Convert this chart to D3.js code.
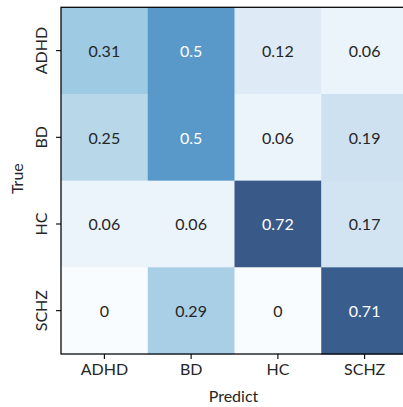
<!DOCTYPE html>
<html><head><meta charset="utf-8">
<script src="https://cdn.jsdelivr.net/npm/d3@7"></script>
<style>body{margin:0;background:#fff;} svg{display:block;} text{font-family:Lato,"DejaVu Sans",sans-serif;}</style>
</head><body><svg id="c" width="403" height="407"></svg>
<script>
const trueLabels = ["ADHD","BD","HC","SCHZ"];
const predLabels = ["ADHD","BD","HC","SCHZ"];
const rowADHD = [0.31, 0.5, 0.12, 0.06];
const rowBD = [0.25, 0.5, 0.06, 0.19];
const rowHC = [0.06, 0.06, 0.72, 0.17];
const rowSCHZ = [0, 0.29, 0, 0.71];
const matrix = [rowADHD, rowBD, rowHC, rowSCHZ];

const svg = d3.select("#c");
const mLeft = 61, mTop = 7.3, w = 347, h = 346.7;
const x = d3.scaleBand().domain(predLabels).range([mLeft, mLeft + w]);
const y = d3.scaleBand().domain(trueLabels).range([mTop, mTop + h]);
const vmax = d3.max(matrix.flat());
const color = d3.scaleSequential(d3.interpolateBlues).domain([0, vmax]);
const alpha = 0.8;
function composite(v){
  const c = d3.rgb(color(v));
  return d3.rgb(c.r*alpha + 255*(1-alpha), c.g*alpha + 255*(1-alpha), c.b*alpha + 255*(1-alpha));
}
function lum(c){
  const f = u => { u/=255; return u <= 0.03928 ? u/12.92 : Math.pow((u+0.055)/1.055, 2.4); };
  return 0.2126*f(c.r) + 0.7152*f(c.g) + 0.0722*f(c.b);
}
const cells = [];
matrix.forEach((row, i) => row.forEach((v, j) => cells.push({t: trueLabels[i], p: predLabels[j], v})));

svg.selectAll("rect.cell").data(cells).enter().append("rect")
  .attr("class","cell")
  .attr("x", d => x(d.p)).attr("y", d => y(d.t))
  .attr("width", x.bandwidth() + 0.5).attr("height", y.bandwidth() + 0.5)
  .attr("fill", d => composite(d.v).formatHex());

svg.selectAll("text.val").data(cells).enter().append("text")
  .attr("class","val")
  .attr("x", d => x(d.p) + x.bandwidth()/2)
  .attr("y", d => y(d.t) + y.bandwidth()/2)
  .attr("text-anchor","middle").attr("dominant-baseline","central")
  .attr("font-size", 16)
  .attr("fill", d => lum(composite(d.v)) > 0.408 ? "#262626" : "#ffffff")
  .text(d => d.v);

// frame
svg.append("rect").attr("x", mLeft).attr("y", mTop).attr("width", w).attr("height", h)
  .attr("fill","none").attr("stroke","#000").attr("stroke-width",1.25);

// x axis
const xa = svg.append("g").attr("transform", `translate(0,${mTop+h})`)
  .call(d3.axisBottom(x).tickSize(5).tickPadding(5));
xa.select(".domain").remove();
xa.selectAll("line").attr("stroke","#000").attr("stroke-width",1.1);
xa.selectAll("text").attr("font-size",16).attr("fill","#262626").attr("font-family","Lato");

// y axis
const ya = svg.append("g").attr("transform", `translate(${mLeft},0)`)
  .call(d3.axisLeft(y).tickSize(5).tickPadding(5));
ya.select(".domain").remove();
ya.selectAll("line").attr("stroke","#000").attr("stroke-width",1.1);
ya.selectAll("text").attr("font-size",16).attr("fill","#262626").attr("font-family","Lato")
  .attr("x", null).attr("dy", null)
  .attr("text-anchor","middle")
  .attr("transform","translate(-21,0) rotate(-90)")
  .attr("dominant-baseline","central");

svg.append("text").attr("x", mLeft + w/2 - 1).attr("y", 402)
  .attr("text-anchor","middle").attr("font-size",16).attr("fill","#262626").text("Predict");
svg.append("text").attr("transform", `translate(23,${mTop + h/2 - 2}) rotate(-90)`)
  .attr("text-anchor","middle").attr("font-size",16).attr("fill","#262626").text("True");
</script></body></html>
